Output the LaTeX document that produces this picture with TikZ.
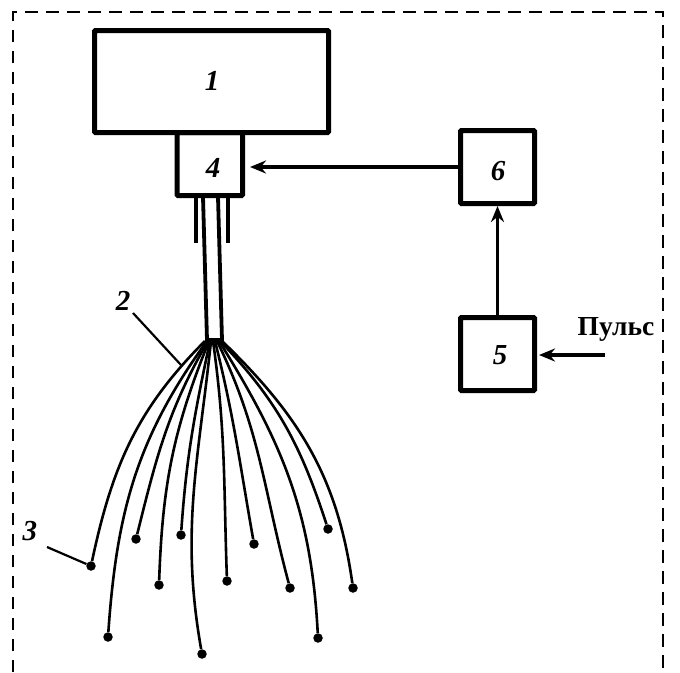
\documentclass[tikz,border=0pt]{standalone}
\usepackage{fontspec}
\setmainfont{Liberation Serif}
\usetikzlibrary{arrows.meta}

\begin{document}
\begin{tikzpicture}[x=1pt,y=-1pt,>={Stealth[length=16pt,width=13pt]},
		main node/.style={rectangle,draw,line width=5pt,rounded corners=1pt,inner sep=0pt},
		tag/.style={font=\bfseries\itshape\fontsize{29}{29}\selectfont},
		fibre/.style={line width=2.6pt},
		fibre end/.style={circle,fill=black,minimum size=9.5pt,inner sep=0pt},
		link/.style={->,line width=3.5pt}]
		
		\useasboundingbox (0,0) rectangle (680,672);
		\draw[line width=2.8pt,dash pattern=on 12.5pt off 8.5pt] (13,672) -- (13,12) -- (663,12) -- (663,672);
		
		% blocks
		\node[main node,minimum width=234pt,minimum height=102pt] (one) at (211.5,81.5) {};
		\node[main node,minimum width=65.5pt,minimum height=63pt] (four) at (209.75,164) {};
		\node[main node,minimum width=74pt,minimum height=73pt] (six) at (497.5,167) {};
		\node[main node,minimum width=74pt,minimum height=73pt] (five) at (497.5,354) {};
		\node[tag] (one text) at (212,81) {1};
		\node[tag] (four text) at (213,168) {4};
		\node[tag] (six text) at (498,171) {6};
		\node[tag] (five text) at (500,355) {5};
		
		% fibre bundle
		\draw[line width=3.8pt] (203,197) -- (207,340) -- (222,340) -- (218,197);
		\draw[line width=3.4pt] (196,197) -- (196,243);
		\draw[line width=3.4pt] (228,197) -- (228,243);
		\coordinate (apex) at (213,341);
		
		\foreach \name/\px/\py/\off/\angout/\angin in {
			a/91/566/-8/225/78, b/108/637/-6/234/86, c/136/539/-5/240/76, d/159/585/-4/248/88,
			e/181/535/-3/258/86, f/202/654/-2/264/100, g/227/581/0/278/92, h/254/544/2/284/100,
			i/290/588/4/296/105, j/318/638/6/302/93, k/328/529/7/314/108, l/353/588/9/316/98}{
			\node[fibre end] (\name) at (\px,\py) {};
			\draw[fibre] ([xshift=\off pt]apex) to[out=\angout,in=\angin] (\name);
		}
		
		% signal path
		\coordinate (pulse) at (605,355);
		\draw[link,shorten >=5pt] (six.west) -- (four.east |- six.west);
		\draw[link] (five) -- (six);
		\draw[link,shorten >=2pt] (pulse) -- (five.east |- pulse);
		\node[font=\bfseries\fontsize{27.5}{27.5}\selectfont] (pulse text) at (616,329) {Пульс};
		
		% labels
		\node[tag] (two) at (123,301) {2};
		\node[tag] (three) at (30,531) {3};
		\coordinate (two end) at (181,365);
		\draw[line width=2.2pt] (133,313) -- (two end);
		\draw[line width=2.2pt] (47,547) -- (a);
		\end{tikzpicture}
\end{document}
